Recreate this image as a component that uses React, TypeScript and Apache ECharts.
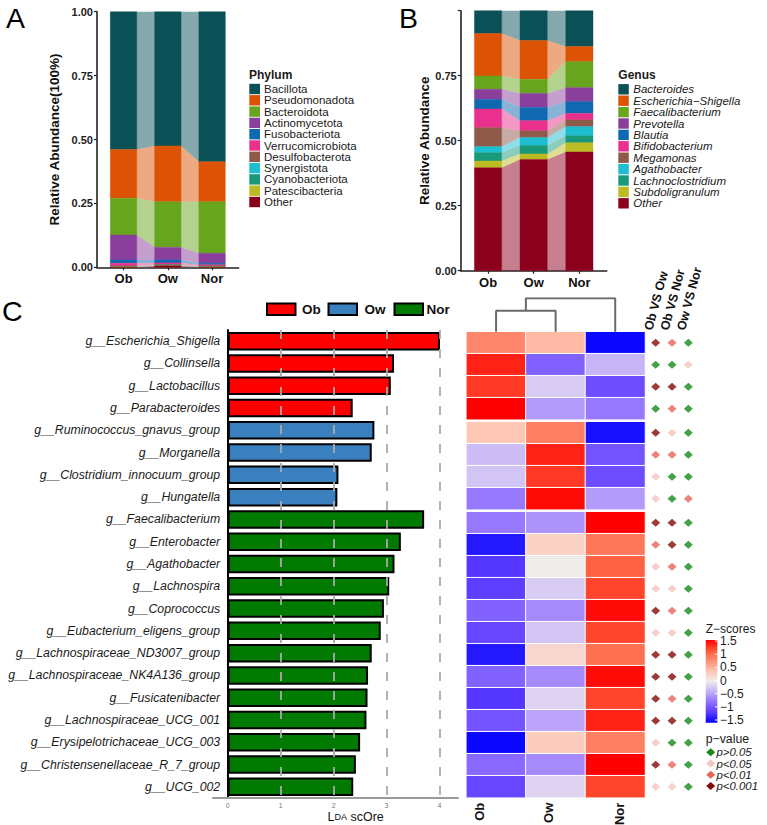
import React, { useEffect, useRef } from 'react';
import * as echarts from 'echarts';

const FONT = '"Liberation Sans", Arial, Helvetica, sans-serif';
const INK = '#1a1a1a';

// ---------- shared ----------
const groups = ['Ob', 'Ow', 'Nor'];
const taxaColors = ['#0A5157', '#DC5305', '#68A51E', '#8A3F9C', '#0F68B0', '#E8308C', '#8E5A4A', '#1CBED0', '#19997A', '#BDBB24', '#8B001D'];

// ---------- panel A (phylum) ----------
const phylumNames = ['Bacillota', 'Pseudomonadota', 'Bacteroidota', 'Actinomycetota', 'Fusobacteriota', 'Verrucomicrobiota', 'Desulfobacterota', 'Synergistota', 'Cyanobacteriota', 'Patescibacteria', 'Other'];
const phylumOb = [0.539, 0.191, 0.144, 0.097, 0.013, 0.011, 0.001, 0.001, 0.001, 0.001, 0.001];
const phylumOw = [0.525, 0.219, 0.178, 0.049, 0.012, 0.006, 0.002, 0.001, 0.001, 0.001, 0.006];
const phylumNor = [0.587, 0.157, 0.201, 0.039, 0.006, 0.005, 0.001, 0.001, 0.001, 0.001, 0.001];

// ---------- panel B (genus) ----------
const genusNames = ['Bacteroides', 'Escherichia\u2212Shigella', 'Faecalibacterium', 'Prevotella', 'Blautia', 'Bifidobacterium', 'Megamonas', 'Agathobacter', 'Lachnoclostridium', 'Subdoligranulum', 'Other'];
const genusOb = [0.088, 0.163, 0.051, 0.039, 0.037, 0.072, 0.073, 0.023, 0.032, 0.026, 0.396];
const genusOw = [0.115, 0.149, 0.054, 0.054, 0.051, 0.039, 0.026, 0.030, 0.033, 0.021, 0.428];
const genusNor = [0.138, 0.058, 0.100, 0.054, 0.045, 0.025, 0.026, 0.035, 0.027, 0.035, 0.457];

// ---------- panel C (LEfSe) ----------
const ldaNames = ['g__Escherichia_Shigella', 'g__Collinsella', 'g__Lactobacillus', 'g__Parabacteroides', 'g__Ruminococcus_gnavus_group', 'g__Morganella', 'g__Clostridium_innocuum_group', 'g__Hungatella', 'g__Faecalibacterium', 'g__Enterobacter', 'g__Agathobacter', 'g__Lachnospira', 'g__Coprococcus', 'g__Eubacterium_eligens_group', 'g__Lachnospiraceae_ND3007_group', 'g__Lachnospiraceae_NK4A136_group', 'g__Fusicatenibacter', 'g__Lachnospiraceae_UCG_001', 'g__Erysipelotrichaceae_UCG_003', 'g__Christensenellaceae_R_7_group', 'g__UCG_002'];
const ldaScores = [4.01, 3.14, 3.08, 2.36, 2.77, 2.72, 2.09, 2.07, 3.71, 3.27, 3.15, 3.05, 2.95, 2.89, 2.72, 2.65, 2.64, 2.62, 2.50, 2.42, 2.37];
const ldaGroup = ['Ob', 'Ob', 'Ob', 'Ob', 'Ow', 'Ow', 'Ow', 'Ow', 'Nor', 'Nor', 'Nor', 'Nor', 'Nor', 'Nor', 'Nor', 'Nor', 'Nor', 'Nor', 'Nor', 'Nor', 'Nor'];
const ldaTicks = [0, 1, 2, 3, 4];
const ldaGuides = [1, 2, 3, 4];
const ldaColors: Record<string, string> = { Ob: '#FF0000', Ow: '#3A7FBE', Nor: '#007A00' };

// heatmap z-scores per row (Ob, Ow, Nor)
const zOb = [0.8, 1.35, 1.25, 1.5, 0.35, -0.3, -0.25, -0.7, -0.7, -1.35, -1.15, -1.1, -0.85, -1.05, -1.35, -0.85, -1.15, -0.95, -1.45, -0.8, -1.05];
const zOw = [0.45, -0.85, -0.2, -0.5, 0.85, 1.35, 1.25, 1.45, -0.55, 0.25, 0.0, -0.2, -0.6, -0.25, 0.2, -0.6, -0.15, -0.45, 0.3, -0.6, -0.15];
const zNor = [-1.45, -0.35, -1.0, -0.7, -1.4, -0.95, -1.0, -0.5, 1.5, 0.9, 1.05, 1.2, 1.45, 1.2, 0.95, 1.45, 1.2, 1.35, 0.85, 1.5, 1.2];
const zTicks = [1.5, 1, 0.5, 0, -0.5, -1, -1.5];
const zColors = ['#0000FF', '#5B3BFF', '#9070FF', '#C4B0F8', '#EFEBEB', '#FFC4B2', '#FF8E73', '#FF5637', '#FF0000'];

// dendrogram merges over columns: [nodeA, nodeB, height]
const dendroMerges = [[0, 1, 0.63], [3, 2, 1.0]];

// pairwise p-value levels (0: >0.05, 1: <0.05, 2: <0.01, 3: <0.001)
const compareLabels = ['Ob VS Ow', 'Ob VS Nor', 'Ow VS Nor'];
const pObOw = [3, 0, 3, 0, 3, 2, 1, 1, 3, 2, 1, 1, 3, 1, 3, 3, 3, 3, 1, 3, 1];
const pObNor = [2, 0, 3, 2, 1, 2, 0, 0, 3, 3, 2, 1, 2, 1, 3, 3, 2, 3, 0, 2, 1];
const pOwNor = [0, 1, 0, 0, 0, 0, 0, 2, 0, 0, 0, 0, 0, 0, 0, 0, 0, 0, 0, 0, 0];
const pLabels = ['p>0.05', 'p<0.05', 'p<0.01', 'p<0.001'];
const pColors = ['#17891A', '#F4C4C0', '#E8645C', '#850A0A'];

function stackLayers(valsByGroup: number[][]) {
  return valsByGroup.map((vals) => {
    const res: { b: number; t: number }[] = new Array(vals.length);
    let cum = 0;
    for (let i = vals.length - 1; i >= 0; i--) {
      res[i] = { b: cum, t: cum + vals[i] };
      cum += vals[i];
    }
    return res;
  });
}

function alluvial(valsByGroup: number[][], colors: string[], axisIdx: number, halfW: number) {
  const st = stackLayers(valsByGroup);
  const barData: number[][] = [];
  const flowData: number[][] = [];
  st.forEach((layers, g) => layers.forEach((l, i) => barData.push([g + 1, l.b, l.t, i])));
  for (let g = 0; g < st.length - 1; g++) {
    for (let i = 0; i < st[g].length; i++) {
      flowData.push([g + 1, g + 2, st[g][i].b, st[g][i].t, st[g + 1][i].b, st[g + 1][i].t, i]);
    }
  }
  const bars = {
    type: 'custom', xAxisIndex: axisIdx, yAxisIndex: axisIdx, silent: true, z: 3, data: barData,
    renderItem: (_p: any, api: any) => {
      const x = api.value(0), b = api.value(1), t = api.value(2), li = api.value(3);
      const p0 = api.coord([x - halfW, t]);
      const p1 = api.coord([x + halfW, b]);
      return {
        type: 'rect',
        shape: { x: p0[0], y: p0[1], width: p1[0] - p0[0], height: p1[1] - p0[1] },
        style: { fill: colors[li], stroke: colors[li], lineWidth: 0.4 },
      };
    },
  };
  const flows = {
    type: 'custom', xAxisIndex: axisIdx, yAxisIndex: axisIdx, silent: true, z: 2, data: flowData,
    renderItem: (_p: any, api: any) => {
      const x0 = api.value(0), x1 = api.value(1);
      const li = api.value(6);
      const pts = [
        api.coord([x0 + halfW, api.value(2)]),
        api.coord([x0 + halfW, api.value(3)]),
        api.coord([x1 - halfW, api.value(5)]),
        api.coord([x1 - halfW, api.value(4)]),
      ];
      return { type: 'polygon', shape: { points: pts }, style: { fill: colors[li], opacity: 0.5 } };
    },
  };
  return [bars, flows];
}

function fmtZ(v: number) {
  const s = String(Math.abs(v));
  return v < 0 ? '\u2212' + s : s;
}

function buildOption(): any {
  const gridA = { left: 97, top: 11.7, width: 141.6, height: 255.6 };
  const gridB = { left: 460.7, top: 10.7, width: 146, height: 260 };
  const gridC = { left: 213, top: 330, width: 245, height: 468 };
  const heatLeft = 466.3, heatWidth = 178.7, heatTop = 331.7, rowPitch = 22, groupGap = 2;
  const diamLeft = 647.5, diamWidth = 49;
  const gridD = { left: heatLeft, top: 298.3, width: heatWidth, height: heatTop - 298.3 };

  const runs: { start: number; count: number }[] = [];
  ldaGroup.forEach((g, i) => {
    if (i === 0 || ldaGroup[i - 1] !== g) runs.push({ start: i, count: 1 });
    else runs[runs.length - 1].count++;
  });
  let top = heatTop;
  const heatGrids = runs.map((r) => {
    const gr = { left: heatLeft, top, width: heatWidth, height: r.count * rowPitch };
    top += r.count * rowPitch + groupGap;
    return gr;
  });
  const diamGrids = heatGrids.map((g) => ({ ...g, left: diamLeft, width: diamWidth }));
  const grid = [gridA, gridB, gridC, gridD, ...heatGrids, ...diamGrids].map((g) => ({
    ...g, containLabel: false, outerBoundsMode: 'none',
  }));
  const nRuns = runs.length;
  const HX = 4, DX = 4 + nRuns;

  const axLine = { color: '#222', width: 1.6 };

  const abundX = (gi: number) => ({
    type: 'value', gridIndex: gi, min: 0.4, max: 3.6,
    axisLine: { show: true, onZero: false, lineStyle: axLine },
    axisTick: { show: true, customValues: [1, 2, 3], length: 3, lineStyle: { color: '#222', width: 1.2 } },
    axisLabel: {
      customValues: [1, 2, 3], formatter: (v: number) => groups[Math.round(v) - 1] ?? '',
      fontWeight: 'bold', fontSize: 13, color: '#111', margin: 5, fontFamily: FONT,
    },
    splitLine: { show: false },
  });
  const abundY = (gi: number, name: string, nameGap: number, hideTop: boolean) => ({
    type: 'value', gridIndex: gi, min: 0, max: 1, interval: 0.25,
    axisLine: { show: true, onZero: false, lineStyle: axLine },
    axisTick: { show: true, length: 3, lineStyle: { color: '#222', width: 1.2 } },
    axisLabel: {
      formatter: (v: number) => (hideTop && v >= 1 ? '' : v.toFixed(2)),
      fontWeight: 'bold', fontSize: 11, color: '#222', margin: 4, fontFamily: FONT,
    },
    splitLine: { show: false },
    name, nameLocation: 'middle', nameGap,
    nameTextStyle: { fontWeight: 'bold', fontSize: 13.5, color: '#111', fontFamily: FONT },
  });

  const colLabelRich: any = {
    Ob: { padding: [0, 0, 34, 0], fontWeight: 'bold', fontSize: 13, color: '#111', fontFamily: FONT },
    Ow: { padding: [0, 0, 14, 0], fontWeight: 'bold', fontSize: 13, color: '#111', fontFamily: FONT },
    Nor: { padding: [8, 0, 0, 0], fontWeight: 'bold', fontSize: 13, color: '#111', fontFamily: FONT },
  };

  const xAxis: any[] = [
    abundX(0),
    abundX(1),
    {
      type: 'value', gridIndex: 2, min: -0.28, max: 4.35,
      axisLine: { show: true, onZero: false, lineStyle: { color: '#9a9a9a', width: 2 } },
      axisTick: { show: false },
      axisLabel: { customValues: ldaTicks, fontSize: 7, color: '#777', margin: 4, fontFamily: FONT },
      splitLine: { show: false },
    },
    { type: 'value', gridIndex: 3, min: -0.5, max: 2.5, show: false },
    ...runs.map((_, i) => ({
      type: 'category', gridIndex: HX + i, data: groups, show: i === nRuns - 1,
      axisLine: { show: false }, axisTick: { show: false },
      axisLabel: {
        interval: 0, rotate: 90, fontWeight: 'bold', fontSize: 13, color: '#111', margin: 5, fontFamily: FONT,
        formatter: (v: string) => `{${v}|${v}}`, rich: colLabelRich,
      },
    })),
    ...runs.map((_, i) => ({
      type: 'category', gridIndex: DX + i, data: compareLabels, show: false,
    })),
  ];

  const yAxis: any[] = [
    abundY(0, 'Relative Abundance(100%)', 36, false),
    abundY(1, 'Relative Abundance', 29, true),
    {
      type: 'category', gridIndex: 2, data: ldaNames, inverse: true,
      axisLine: { show: true, onZero: true, lineStyle: { color: '#000', width: 2 } },
      axisTick: { show: false },
      axisLabel: { interval: 0, fontStyle: 'italic', fontSize: 12.3, color: INK, margin: -7.2, fontFamily: FONT },
    },
    { type: 'value', gridIndex: 3, min: 0, max: 1, show: false },
    ...runs.map((r, i) => ({ type: 'category', gridIndex: HX + i, data: ldaNames.slice(r.start, r.start + r.count), inverse: true, show: false })),
    ...runs.map((r, i) => ({ type: 'category', gridIndex: DX + i, data: ldaNames.slice(r.start, r.start + r.count), inverse: true, show: false })),
  ];

  const series: any[] = [];
  series.push(...alluvial([phylumOb, phylumOw, phylumNor], taxaColors, 0, 0.3));
  series.push(...alluvial([genusOb, genusOw, genusNor], taxaColors, 1, 0.3));

  groups.forEach((g, gi) => {
    series.push({
      type: 'bar', name: g, xAxisIndex: 2, yAxisIndex: 2, stack: 'lda', barWidth: 18.5, silent: true,
      data: ldaScores.map((v, i) => (ldaGroup[i] === g ? v : '-')),
      itemStyle: { color: ldaColors[g], borderColor: '#000', borderWidth: 2 },
      markLine: gi === groups.length - 1 ? {
        silent: true, symbol: ['none', 'none'], label: { show: false },
        lineStyle: { color: 'rgba(170,170,170,0.9)', type: [9, 10], width: 2 },
        data: ldaGuides.map((v) => ({ xAxis: v })),
      } : undefined,
    });
  });

  const nodeX = [0, 1, 2];
  const nodeH = [0, 0, 0];
  dendroMerges.forEach(([a, b, h]) => {
    series.push({
      type: 'line', xAxisIndex: 3, yAxisIndex: 3, symbol: 'none', silent: true,
      data: [[nodeX[a], nodeH[a]], [nodeX[a], h], [nodeX[b], h], [nodeX[b], nodeH[b]]],
      lineStyle: { color: '#6a6a6a', width: 2 },
    });
    nodeX.push((nodeX[a] + nodeX[b]) / 2);
    nodeH.push(h);
  });

  const heatIdx: number[] = [];
  runs.forEach((r, gi) => {
    const data: number[][] = [];
    for (let k = 0; k < r.count; k++) {
      const row = r.start + k;
      data.push([0, k, zOb[row]], [1, k, zOw[row]], [2, k, zNor[row]]);
    }
    heatIdx.push(series.length);
    series.push({
      type: 'heatmap', xAxisIndex: HX + gi, yAxisIndex: HX + gi, data, silent: true,
      itemStyle: { borderColor: '#fff', borderWidth: 1 },
    });
  });

  const pCols = [pObOw, pObNor, pOwNor];
  runs.forEach((r, gi) => {
    const data: any[] = [];
    for (let k = 0; k < r.count; k++) {
      const row = r.start + k;
      pCols.forEach((col, c) => data.push({ value: [c, k], itemStyle: { color: pColors[col[row]] } }));
    }
    series.push({
      type: 'scatter', xAxisIndex: DX + gi, yAxisIndex: DX + gi, data, silent: true,
      symbol: 'diamond', symbolSize: [9, 8],
    });
  });

  // ---------- graphic: letters, legends ----------
  const gfx: any[] = [];
  const txt = (x: number, y: number, text: string, o: any = {}) => ({
    type: 'text', x, y, silent: true,
    style: { text, fontFamily: FONT, fontSize: 12, fill: INK, textAlign: 'left', textVerticalAlign: 'middle', ...o },
  });
  gfx.push(txt(6, 17.5, 'A', { fontSize: 28.5, fill: '#000' }));
  gfx.push(txt(399, 17.5, 'B', { fontSize: 28.5, fill: '#000' }));
  gfx.push(txt(2, 311, 'C', { fontSize: 28.5, fill: '#000' }));

  // rotated comparison headers above the p-value columns
  const colPitch = diamWidth / compareLabels.length;
  compareLabels.forEach((l, c) => {
    gfx.push({
      type: 'text', x: diamLeft + (c + 0.5) * colPitch - 1, y: heatTop, rotation: (75 * Math.PI) / 180, silent: true,
      style: { text: l, fontFamily: FONT, fontSize: 12.5, fontWeight: 'bold', fill: '#111', textAlign: 'left', textVerticalAlign: 'bottom' },
    });
  });

  gfx.push(txt(249, 75, 'Phylum', { fontWeight: 'bold', fontSize: 12 }));
  phylumNames.forEach((n, i) => {
    const cy = 89 + i * 11.3;
    gfx.push({ type: 'rect', silent: true, shape: { x: 249.3, y: cy - 5.2, width: 10.7, height: 10.4 }, style: { fill: taxaColors[i] } });
    gfx.push(txt(264, cy, n, { fontSize: 11.5 }));
  });

  gfx.push(txt(618.3, 75, 'Genus', { fontWeight: 'bold', fontSize: 12 }));
  genusNames.forEach((n, i) => {
    const cy = 89.3 + i * 11.4;
    gfx.push({ type: 'rect', silent: true, shape: { x: 618.3, y: cy - 5.2, width: 10.5, height: 10.4 }, style: { fill: taxaColors[i] } });
    gfx.push(txt(633.3, cy, n, { fontStyle: 'italic', fontSize: 11.5 }));
  });

  const legC = [{ x: 267, tx: 302 }, { x: 328.5, tx: 364.5 }, { x: 394.5, tx: 426.5 }];
  groups.forEach((g, i) => {
    gfx.push({ type: 'rect', silent: true, shape: { x: legC[i].x, y: 303.5, width: 28.5, height: 11.5 }, style: { fill: ldaColors[g], stroke: '#000', lineWidth: 2 } });
    gfx.push(txt(legC[i].tx, 309.3, g, { fontWeight: 'bold', fontSize: 13.5, fill: '#111' }));
  });

  gfx.push({
    type: 'text', x: 355.7, y: 817, silent: true,
    style: {
      text: '{a|L}{b|DA}{a| sc}{a|O}{a|re}', textAlign: 'center', textVerticalAlign: 'middle',
      fontFamily: FONT, fontSize: 12.5, fill: '#111',
      rich: {
        a: { fontSize: 12.5, fontFamily: FONT, fill: '#111' },
        b: { fontSize: 9, fontFamily: FONT, fill: '#111' },
      },
    },
  });

  // Z-score colour bar
  const cbX = 705.7, cbW = 11.6, cbTop = 640, cbBot = 722.7, zTopY = 641, zBotY = 720;
  const zY = (v: number) => zTopY + ((1.5 - v) / 3) * (zBotY - zTopY);
  gfx.push(txt(705.7, 628.5, 'Z\u2212scores', { fontSize: 12 }));
  const stops = zColors.slice().reverse().map((c, i, arr) => ({ offset: i / (arr.length - 1), color: c }));
  gfx.push({
    type: 'rect', silent: true, shape: { x: cbX, y: cbTop, width: cbW, height: cbBot - cbTop },
    style: { fill: new echarts.graphic.LinearGradient(0, 0, 0, 1, stops) },
  });
  zTicks.forEach((v) => {
    gfx.push({ type: 'line', silent: true, shape: { x1: cbX + cbW - 2.5, y1: zY(v), x2: cbX + cbW, y2: zY(v) }, style: { stroke: '#fff', lineWidth: 1 } });
    gfx.push(txt(720, zY(v), fmtZ(v), { fontSize: 12 }));
  });

  // p-value legend
  gfx.push(txt(705.7, 739, 'p\u2212value', { fontSize: 12.3 }));
  pLabels.forEach((l, i) => {
    const cy = 752.3 + i * 11.2;
    const cx = 710.7;
    gfx.push({ type: 'polygon', silent: true, shape: { points: [[cx - 4.5, cy], [cx, cy - 4], [cx + 4.5, cy], [cx, cy + 4]] }, style: { fill: pColors[i] } });
    gfx.push(txt(716.5, cy, l, { fontStyle: 'italic', fontSize: 11.4 }));
  });

  return {
    animation: false,
    backgroundColor: '#ffffff',
    textStyle: { fontFamily: FONT },
    grid,
    xAxis,
    yAxis,
    visualMap: {
      type: 'continuous', show: false, min: -1.5, max: 1.5, dimension: 2,
      seriesIndex: heatIdx, inRange: { color: zColors },
    },
    series,
    graphic: { elements: gfx },
  };
}

export default function App() {
  const ref = useRef<HTMLDivElement>(null);
  useEffect(() => {
    if (!ref.current) return;
    const chart = echarts.init(ref.current, null, { renderer: 'svg' });
    chart.setOption(buildOption());
    return () => chart.dispose();
  }, []);
  return (
    <div
      ref={ref}
      style={{ position: 'fixed', left: 0, top: 0, width: 767, height: 825, background: '#fff' }}
    />
  );
}
